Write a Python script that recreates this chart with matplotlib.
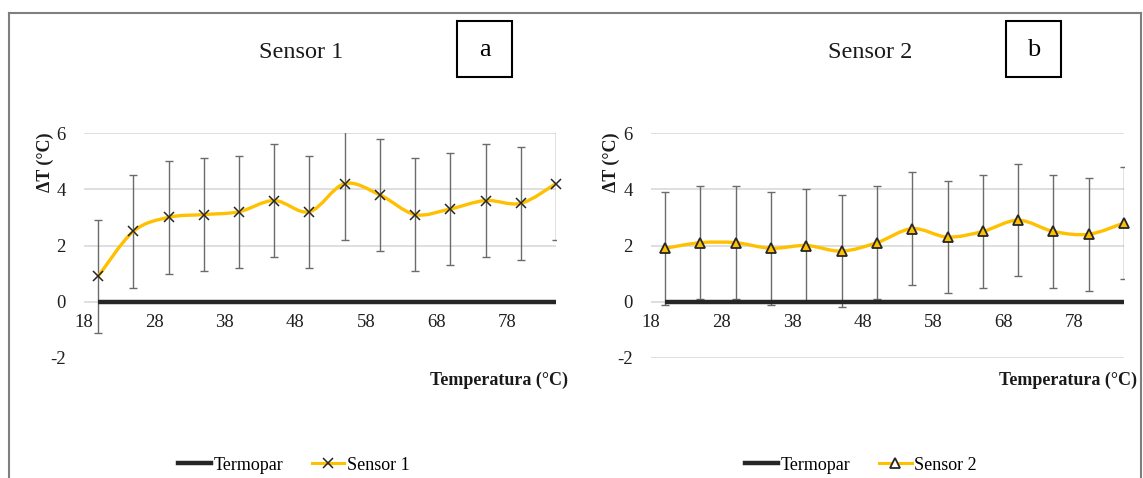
import numpy as np
import matplotlib
matplotlib.use("Agg")
import matplotlib.pyplot as plt
from matplotlib.path import Path
from matplotlib.patches import PathPatch, Rectangle
from matplotlib.lines import Line2D

# ---------------- data ----------------
temperatura = [20, 25, 30, 35, 40, 45, 50, 55, 60, 65, 70, 75, 80, 85]
termopar = [0, 0, 0, 0, 0, 0, 0, 0, 0, 0, 0, 0, 0, 0]
sensor1 = [0.9, 2.5, 3.0, 3.1, 3.2, 3.6, 3.2, 4.2, 3.8, 3.1, 3.3, 3.6, 3.5, 4.2]
sensor1_err = [2.0, 2.0, 2.0, 2.0, 2.0, 2.0, 2.0, 2.0, 2.0, 2.0, 2.0, 2.0, 2.0, 2.0]
sensor2 = [1.9, 2.1, 2.1, 1.9, 2.0, 1.8, 2.1, 2.6, 2.3, 2.5, 2.9, 2.5, 2.4, 2.8]
sensor2_err = [2.0, 2.0, 2.0, 2.0, 2.0, 2.0, 2.0, 2.0, 2.0, 2.0, 2.0, 2.0, 2.0, 2.0]
x_ticks = [18, 28, 38, 48, 58, 68, 78]
y_ticks = [-2, 0, 2, 4, 6]
titles = ["Sensor 1", "Sensor 2"]
panel_letters = ["a", "b"]
series_names = ["Sensor 1", "Sensor 2"]

plt.rcParams["font.family"] = ["Liberation Serif", "DejaVu Serif"]
plt.rcParams["axes.unicode_minus"] = False

W, H = 1143, 478
fig = plt.figure(figsize=(W / 100, H / 100), dpi=100)

GOLD = "#FFC000"
ERR = "#6b6b6b"
GRID = "#d9d9d9"


def fx(px):
    return px / W


def fy(py):
    return 1 - py / H


def smooth_path(x, y):
    pts = np.column_stack([x, y]).astype(float)
    n = len(pts)
    verts = [pts[0]]
    codes = [Path.MOVETO]
    for i in range(n - 1):
        p0 = pts[i - 1] if i > 0 else pts[i]
        p1 = pts[i]
        p2 = pts[i + 1]
        p3 = pts[i + 2] if i + 2 < n else pts[i + 1]
        c1 = p1 + (p2 - p0) / 6.0
        c2 = p2 - (p3 - p1) / 6.0
        verts += [c1, c2, p2]
        codes += [Path.CURVE4] * 3
    return Path(verts, codes)


panels = [
    dict(left=84, right=556, values=sensor1, err=sensor1_err, marker="x",
         grid=[0, 2, 4, 6], ylab_x=45, title_x=301, box=(457, 21, 55, 56),
         xlab_right=568, leg_center=294),
    dict(left=651, right=1124, values=sensor2, err=sensor2_err, marker="^",
         grid=[-2, 0, 2, 4, 6], ylab_x=611, title_x=870, box=(1006, 21, 55, 56),
         xlab_right=1137, leg_center=861),
]

top_px, bot_px = 133, 358

for k, p in enumerate(panels):
    ax = fig.add_axes([fx(p["left"]), fy(bot_px), (p["right"] - p["left"]) / W,
                       (bot_px - top_px) / H])
    ax.set_xlim(18, 85)
    ax.set_ylim(-2, 6)
    for s in ax.spines.values():
        s.set_visible(False)
    ax.spines["bottom"].set_position(("data", 0))
    ax.set_xticks(x_ticks)
    ax.set_yticks(y_ticks)
    ax.set_yticklabels([str(v) for v in y_ticks])
    ax.set_xticklabels([str(v) for v in x_ticks])
    ax.tick_params(axis="both", length=0, labelsize=13.5, colors="#1f1f1f")
    ax.tick_params(axis="y", pad=13)
    ax.tick_params(axis="x", pad=9)
    for g in p["grid"]:
        ax.axhline(g, color=GRID, lw=1.2, zorder=1)

    ax.errorbar(temperatura, p["values"], yerr=p["err"], fmt="none",
                ecolor=ERR, elinewidth=1.0, capsize=3.0, capthick=1.0, zorder=3)
    ax.plot(temperatura, termopar, color="#262626", lw=3.2, zorder=4,
            solid_capstyle="butt")
    patch = PathPatch(smooth_path(temperatura, p["values"]), facecolor="none",
                      edgecolor=GOLD, lw=2.4, zorder=5, transform=ax.transData)
    ax.add_patch(patch)
    if p["marker"] == "x":
        ax.plot(temperatura, p["values"], ls="none", marker="x", ms=7,
                mew=1.1, color="#262626", zorder=6, clip_on=False)
        leg_marker = dict(marker="x", ms=7, mew=1.1, mec="#262626")
    else:
        ax.plot(temperatura, p["values"], ls="none", marker="^", ms=7.5,
                mew=1.3, mec="#262626", mfc=GOLD, zorder=6, clip_on=False)
        leg_marker = dict(marker="^", ms=6.5, mew=1.3, mec="#262626", mfc="white")

    # y label
    ax.text(fx(p["ylab_x"]), fy(top_px), "ΔT (°C)", transform=fig.transFigure,
            rotation=90, ha="center", va="top", fontsize=13, fontweight="bold",
            color="#1a1a1a")
    # x label
    fig.text(fx(p["xlab_right"]), fy(380), "Temperatura (°C)", ha="right",
             va="center", fontsize=13, fontweight="bold", color="#1a1a1a")
    # title
    fig.text(fx(p["title_x"]), fy(53), titles[k], ha="center", va="center",
             fontsize=17.5, color="#1a1a1a")
    # panel letter box
    bx, by, bw, bh = p["box"]
    fig.add_artist(Rectangle((fx(bx), fy(by + bh)), bw / W, bh / H,
                             transform=fig.transFigure, fill=False,
                             edgecolor="black", lw=1.5))
    fig.text(fx(bx + bw / 2), fy(by + bh / 2 + 1), panel_letters[k], ha="center",
             va="center", fontsize=19, color="black")

    handles = [Line2D([], [], color="#262626", lw=3.2),
               Line2D([], [], color=GOLD, lw=2.2, **leg_marker)]
    fig.legend(handles, ["Termopar", series_names[k]], loc="center",
               bbox_to_anchor=(fx(p["leg_center"]), fy(465)), ncol=2,
               frameon=False, fontsize=13, handlelength=1.8,
               handletextpad=0.15, columnspacing=1.6, borderpad=0)

# outer frame lines
frame_kw = dict(color="#7f7f7f", lw=1.5, transform=fig.transFigure)
fig.add_artist(Line2D([fx(9), fx(1141)], [fy(13), fy(13)], **frame_kw))
fig.add_artist(Line2D([fx(9), fx(9)], [fy(13), 0], **frame_kw))
fig.add_artist(Line2D([fx(1141), fx(1141)], [fy(13), 0], **frame_kw))

fig.savefig("out.png", dpi=100, facecolor="white")
